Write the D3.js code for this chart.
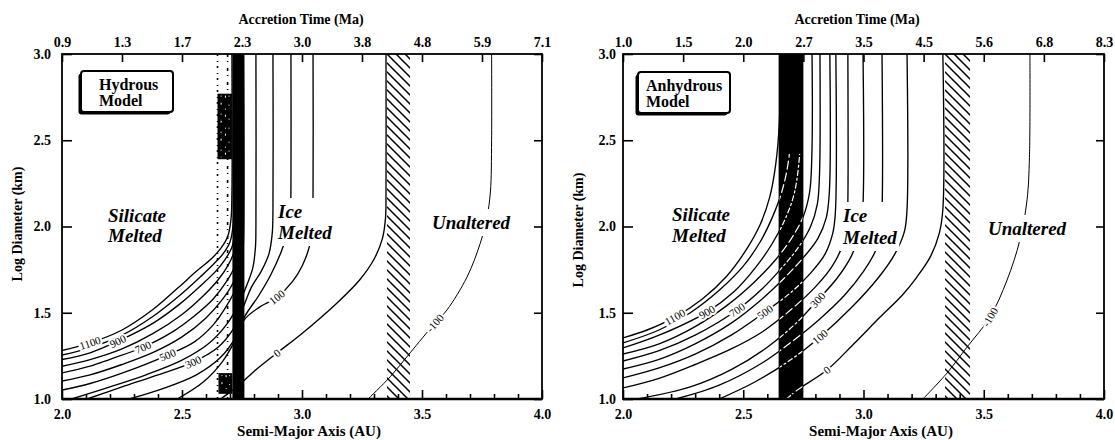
<!DOCTYPE html>
<html>
<head>
<meta charset="utf-8">
<script src="https://cdn.jsdelivr.net/npm/d3@7"></script>
<style>
  body { margin: 0; background: #fff; }
  svg text { font-family: "Liberation Serif", "Times New Roman", serif; fill: #000; }
</style>
</head>
<body>
<svg id="chart" width="1115" height="440"></svg>
<script>
// ---- axes ----
const axisDomainA = [2.0, 4.0];          // semi-major axis (AU)
const axisDomainD = [1.0, 3.0];          // log diameter (km)
const bottomTicks = [2.0, 2.5, 3.0, 3.5, 4.0];
const bottomMinorTicks = [2.1, 2.2, 2.3, 2.4, 2.6, 2.7, 2.8, 2.9, 3.1, 3.2, 3.3, 3.4, 3.6, 3.7, 3.8, 3.9];
const sideTicks = [1.0, 1.5, 2.0, 2.5, 3.0];
const topTickPositions = [2.0, 2.25, 2.5, 2.75, 3.0, 3.25, 3.5, 3.75, 4.0];
const hydrousTimeLabels = ["0.9", "1.3", "1.7", "2.3", "3.0", "3.8", "4.8", "5.9", "7.1"];
const anhydrousTimeLabels = ["1.0", "1.5", "2.0", "2.7", "3.5", "4.5", "5.6", "6.8", "8.3"];

// ---- hydrous model: peak temperature contours (deg C), points as [AU, log D] ----
const hydrousLevels = [1100, 1000, 900, 800, 700, 600, 500, 400, 300, 200, 100, 0, -100];
const hydrousCurves = [
  [[2.0,1.281],[2.117,1.325],[2.25,1.40],[2.38,1.52],[2.48,1.64],[2.56,1.74],[2.62,1.81],[2.66,1.87],[2.69,1.94],[2.704,2.04],[2.708,2.2],[2.708,3.0]],
  [[2.0,1.255],[2.117,1.297],[2.25,1.37],[2.38,1.48],[2.49,1.60],[2.57,1.70],[2.63,1.78],[2.67,1.84],[2.70,1.91],[2.713,2.01],[2.716,2.17],[2.716,3.0]],
  [[2.0,1.229],[2.117,1.268],[2.233,1.335],[2.38,1.44],[2.49,1.55],[2.58,1.66],[2.64,1.74],[2.68,1.81],[2.708,1.88],[2.721,1.98],[2.724,2.14],[2.724,3.0]],
  [[2.0,1.19],[2.117,1.228],[2.25,1.29],[2.38,1.38],[2.50,1.49],[2.59,1.60],[2.65,1.69],[2.69,1.77],[2.716,1.85],[2.729,1.95],[2.732,2.11],[2.732,3.0]],
  [[2.0,1.151],[2.117,1.19],[2.2,1.23],[2.3375,1.30],[2.45,1.38],[2.55,1.48],[2.63,1.58],[2.685,1.68],[2.72,1.77],[2.737,1.88],[2.74,2.05],[2.74,3.0]],
  [[2.0,1.104],[2.117,1.14],[2.25,1.20],[2.38,1.27],[2.50,1.36],[2.60,1.47],[2.67,1.58],[2.715,1.68],[2.738,1.78],[2.747,1.90],[2.748,2.05],[2.748,3.0]],
  [[2.0,1.052],[2.117,1.09],[2.25,1.15],[2.44,1.255],[2.55,1.33],[2.63,1.43],[2.69,1.55],[2.73,1.66],[2.75,1.77],[2.756,1.90],[2.756,3.0]],
  [[2.04,1.0],[2.2,1.07],[2.35,1.14],[2.5,1.225],[2.61,1.32],[2.69,1.44],[2.74,1.56],[2.77,1.66],[2.795,1.76],[2.806,1.88],[2.808,2.0],[2.808,3.0]],
  [[2.104,1.0],[2.25,1.07],[2.40,1.14],[2.546,1.214],[2.65,1.30],[2.72,1.42],[2.76,1.55],[2.79,1.65],[2.83,1.74],[2.862,1.84],[2.876,1.96],[2.879,2.1],[2.879,3.0]],
  [[2.28,1.0],[2.42,1.06],[2.56,1.14],[2.66,1.24],[2.72,1.35],[2.762,1.48],[2.82,1.60],[2.87,1.72],[2.915,1.86],[2.942,1.98],[2.952,2.1],[2.954,2.25],[2.954,3.0]],
  [[2.48,1.0],[2.59,1.10],[2.67,1.22],[2.725,1.35],[2.76,1.46],[2.82,1.53],[2.896,1.59],[2.96,1.68],[3.0,1.77],[3.03,1.88],[3.043,2.0],[3.046,2.2],[3.046,3.0]],
  [[2.66,1.0],[2.72,1.06],[2.80,1.16],[2.896,1.267],[3.0,1.38],[3.146,1.557],[3.24,1.69],[3.30,1.81],[3.335,1.93],[3.348,2.05],[3.35,2.2],[3.35,3.0]],
  [[3.275,1.0],[3.367,1.128],[3.45,1.267],[3.554,1.44],[3.604,1.516],[3.6875,1.707],[3.742,1.90],[3.77,2.05],[3.785,2.2],[3.79,2.5],[3.79,3.0]]
];
// index of the vertex carrying each contour's value label (null = unlabelled)
const hydrousLabelAt = [1, null, 2, null, 3, null, 3, null, 3, null, 6, 3, 3];
const hydrousBand = [2.71, 2.76];
const hydrousHatch = [3.354, 3.45];
const hydrousSpeckle = [[2.648, 2.708, 2.39, 2.77], [2.652, 2.71, 1.03, 1.15]];
const hydrousDotted = [2.648, 2.69];

// ---- anhydrous model ----
const anhydrousLevels = [1100, 1000, 900, 800, 700, 600, 500, 400, 300, 200, 100, 0, -100];
const anhydrousCurves = [
  [[2.0,1.354],[2.10,1.40],[2.216,1.475],[2.33,1.58],[2.43,1.71],[2.51,1.86],[2.57,2.01],[2.61,2.17],[2.635,2.36],[2.65,2.6],[2.655,3.0]],
  [[2.0,1.325],[2.15,1.40],[2.28,1.50],[2.40,1.63],[2.50,1.77],[2.57,1.91],[2.62,2.05],[2.66,2.2],[2.69,2.4],[2.70,2.7],[2.70,3.0]],
  [[2.0,1.296],[2.15,1.37],[2.349,1.504],[2.46,1.62],[2.55,1.76],[2.62,1.90],[2.67,2.03],[2.71,2.18],[2.73,2.35],[2.74,2.6],[2.742,3.0]],
  [[2.0,1.261],[2.15,1.32],[2.30,1.42],[2.43,1.54],[2.54,1.67],[2.63,1.80],[2.70,1.93],[2.75,2.06],[2.776,2.2],[2.785,2.4],[2.786,3.0]],
  [[2.0,1.22],[2.15,1.28],[2.30,1.37],[2.474,1.516],[2.58,1.64],[2.66,1.76],[2.73,1.88],[2.78,2.0],[2.808,2.13],[2.817,2.3],[2.819,3.0]],
  [[2.0,1.174],[2.15,1.23],[2.30,1.32],[2.45,1.44],[2.57,1.57],[2.67,1.70],[2.75,1.82],[2.81,1.93],[2.845,2.05],[2.858,2.2],[2.86,3.0]],
  [[2.0,1.122],[2.15,1.18],[2.30,1.26],[2.45,1.37],[2.59,1.504],[2.70,1.62],[2.78,1.73],[2.84,1.84],[2.872,1.96],[2.883,2.08],[2.885,3.0]],
  [[2.0,1.064],[2.15,1.12],[2.30,1.20],[2.45,1.29],[2.58,1.39],[2.70,1.52],[2.80,1.65],[2.87,1.77],[2.915,1.90],[2.932,2.03],[2.935,2.15],[2.935,3.0]],
  [[2.06,1.0],[2.28,1.07],[2.45,1.17],[2.60,1.30],[2.72,1.44],[2.81,1.574],[2.89,1.70],[2.95,1.83],[2.985,1.96],[2.997,2.1],[2.998,3.0]],
  [[2.22,1.0],[2.40,1.08],[2.58,1.21],[2.70,1.33],[2.815,1.46],[2.92,1.60],[3.00,1.74],[3.05,1.86],[3.07,1.98],[3.077,2.1],[3.077,3.0]],
  [[2.40,1.0],[2.55,1.10],[2.70,1.23],[2.819,1.36],[2.95,1.53],[3.06,1.70],[3.13,1.84],[3.17,1.97],[3.181,2.1],[3.181,3.0]],
  [[2.68,1.0],[2.723,1.05],[2.848,1.168],[2.96,1.32],[3.069,1.475],[3.16,1.60],[3.222,1.707],[3.28,1.83],[3.315,1.96],[3.33,2.1],[3.33,3.0]],
  [[3.247,1.0],[3.347,1.15],[3.43,1.30],[3.526,1.475],[3.597,1.69],[3.65,1.92],[3.68,2.154],[3.69,2.4],[3.692,3.0]]
];
const anhydrousLabelAt = [2, null, 2, null, 3, null, 4, null, 5, null, 3, 2, 3];
const anhydrousBand = [2.647, 2.75];
const anhydrousHatch = [3.339, 3.443];
const anhydrousStreakTop = 2.42;

// ---- layout ----
const plotTop = 54, plotBottom = 399;
const panels = [
  {
    id: "hydrous", left: 62, right: 542,
    timeLabels: hydrousTimeLabels, levels: hydrousLevels, curves: hydrousCurves, labelAt: hydrousLabelAt,
    band: hydrousBand, hatch: hydrousHatch, speckle: hydrousSpeckle, dotted: hydrousDotted, streakTop: null,
    box: { x: 81, y: 71, w: 92, h: 41, text: ["Hydrous", "Model"], tx: 99, ty: [90, 106] },
    regions: [
      { lines: ["Silicate", "Melted"], x: 108, y: [222, 242] },
      { lines: ["Ice", "Melted"], x: 278, y: [218, 239] },
      { lines: ["Unaltered"], x: 432, y: [229] }
    ],
    topTitleX: 301, bottomTitleX: 309, sideTitleX: 22, sideTitleY: 224, tickLabelGap: 11
  },
  {
    id: "anhydrous", left: 623, right: 1104,
    timeLabels: anhydrousTimeLabels, levels: anhydrousLevels, curves: anhydrousCurves, labelAt: anhydrousLabelAt,
    band: anhydrousBand, hatch: anhydrousHatch, speckle: [], dotted: [], streakTop: anhydrousStreakTop,
    box: { x: 638, y: 72, w: 92, h: 41, text: ["Anhydrous", "Model"], tx: 646, ty: [91, 107] },
    regions: [
      { lines: ["Silicate", "Melted"], x: 672, y: [221, 242] },
      { lines: ["Ice", "Melted"], x: 843, y: [222, 244] },
      { lines: ["Unaltered"], x: 988, y: [235] }
    ],
    topTitleX: 857, bottomTitleX: 881, sideTitleX: 583, sideTitleY: 230, tickLabelGap: 7
  }
];

const svg = d3.select("#chart");
const defs = svg.append("defs");

// diagonal hatching (upper-left to lower-right), 9 px repeat
const hatch = defs.append("pattern")
  .attr("id", "hatch")
  .attr("patternUnits", "userSpaceOnUse")
  .attr("width", 9).attr("height", 9);
hatch.append("path")
  .attr("d", "M-1,-1L10,10M-1,8L1,10M8,-1L10,1")
  .attr("stroke", "#000").attr("stroke-width", 1.5).attr("fill", "none");

function styleAxis(sel, size) {
  sel.attr("font-family", null).attr("font-size", null);
  sel.select(".domain").remove();
  sel.selectAll(".tick line").attr("stroke", "#000").attr("stroke-width", 1.6);
  sel.selectAll(".tick text")
    .style("font-family", '"Liberation Serif", "Times New Roman", serif')
    .style("font-size", size + "px")
    .style("font-weight", "bold");
}

function drawPanel(p) {
  const x = d3.scaleLinear().domain(axisDomainA).range([p.left, p.right]);
  const y = d3.scaleLinear().domain(axisDomainD).range([plotBottom, plotTop]);
  const g = svg.append("g").attr("class", "panel-" + p.id);

  const clipId = "clip-" + p.id;
  defs.append("clipPath").attr("id", clipId).append("rect")
    .attr("x", p.left).attr("y", plotTop)
    .attr("width", p.right - p.left).attr("height", plotBottom - plotTop);
  const plot = g.append("g").attr("clip-path", `url(#${clipId})`);

  // hatched transition zone
  plot.append("rect")
    .attr("x", x(p.hatch[0])).attr("y", plotTop)
    .attr("width", x(p.hatch[1]) - x(p.hatch[0])).attr("height", plotBottom - plotTop)
    .attr("fill", "url(#hatch)");

  // dotted edges of the crowded zone
  p.dotted.forEach((a, i) => {
    plot.append("line")
      .attr("x1", x(a)).attr("x2", x(a)).attr("y1", plotTop).attr("y2", plotBottom)
      .attr("stroke", "#000").attr("stroke-width", 1.6)
      .attr("stroke-dasharray", i === 0 ? "2,5,1,4" : "3,4,1,6");
  });
  // dense speckled blocks
  p.speckle.forEach(s => {
    const x0 = x(s[0]), x1 = x(s[1]), y0 = y(s[3]), y1 = y(s[2]);
    plot.append("rect")
      .attr("x", x0).attr("y", y0).attr("width", x1 - x0).attr("height", y1 - y0)
      .attr("fill", "#000");
    [0.25, 0.55, 0.8].forEach((f, j) => {
      plot.append("line")
        .attr("x1", x0 + f * (x1 - x0)).attr("x2", x0 + f * (x1 - x0))
        .attr("y1", y0 + 2).attr("y2", y1 - 2)
        .attr("stroke", "#fff").attr("stroke-width", 1)
        .attr("stroke-dasharray", ["1,6,2,9", "2,11,1,5", "1,8,1,13"][j]);
    });
  });

  // solid band where the contours crowd together
  plot.append("rect")
    .attr("x", x(p.band[0])).attr("y", plotTop)
    .attr("width", x(p.band[1]) - x(p.band[0])).attr("height", plotBottom - plotTop)
    .attr("fill", "#000");

  const line = d3.line()
    .x(d => x(d[0])).y(d => y(d[1]))
    .curve(d3.curveCatmullRom.alpha(0.5));

  plot.selectAll("path.contour")
    .data(p.curves)
    .join("path")
    .attr("class", "contour")
    .attr("d", line)
    .attr("fill", "none")
    .attr("stroke", "#000")
    .attr("stroke-width", (d, i) => p.levels[i] < 0 ? 1.0 : 1.35);

  // contour traces showing through the dark band
  if (p.streakTop !== null) {
    const sid = "streak-" + p.id;
    defs.append("clipPath").attr("id", sid).append("rect")
      .attr("x", x(p.band[0]) + 1).attr("y", y(p.streakTop))
      .attr("width", x(p.band[1]) - x(p.band[0]) - 2).attr("height", plotBottom - y(p.streakTop));
    plot.append("g").attr("clip-path", `url(#${sid})`)
      .selectAll("path")
      .data(p.curves)
      .join("path")
      .attr("d", line)
      .attr("fill", "none")
      .attr("stroke", "#fff")
      .attr("stroke-width", 1.2)
      .attr("stroke-dasharray", (d, i) => i % 2 ? "9,3" : "6,2,3,2");
  }

  // contour value labels, set along the curve
  p.labelAt.forEach((k, i) => {
    if (k === null) return;
    const pts = p.curves[i];
    const a = pts[k - 1], b = pts[k + 1];
    const ang = Math.atan2(y(b[1]) - y(a[1]), x(b[0]) - x(a[0])) * 180 / Math.PI;
    plot.append("text")
      .attr("transform", `translate(${x(pts[k][0])},${y(pts[k][1])}) rotate(${ang})`)
      .attr("text-anchor", "middle")
      .attr("dy", "0.35em")
      .attr("font-size", 11)
      .attr("stroke", "#fff").attr("stroke-width", 4).attr("paint-order", "stroke")
      .text(p.levels[i]);
  });

  // region names with a cleared background
  p.regions.forEach(r => {
    const grp = g.append("g");
    const bg = grp.append("rect").attr("fill", "#fff");
    r.lines.forEach((t, j) => {
      grp.append("text")
        .attr("x", r.x).attr("y", r.y[j])
        .attr("font-size", 19).attr("font-weight", "bold").attr("font-style", "italic")
        .text(t);
    });
    const bb = grp.node().getBBox();
    bg.attr("x", bb.x - 2).attr("y", bb.y - 3).attr("width", bb.width + 4).attr("height", bb.height + 6);
  });

  // model name box
  const bx = p.box;
  g.append("rect").attr("x", bx.x - 2.5).attr("y", bx.y + 2.5).attr("width", bx.w).attr("height", bx.h)
    .attr("rx", 3).attr("fill", "#000");
  g.append("rect").attr("x", bx.x).attr("y", bx.y).attr("width", bx.w).attr("height", bx.h)
    .attr("rx", 3).attr("fill", "#fff").attr("stroke", "#000").attr("stroke-width", 2);
  bx.text.forEach((t, j) => {
    g.append("text").attr("x", bx.tx).attr("y", bx.ty[j])
      .attr("font-size", 16).attr("font-weight", "bold").text(t);
  });

  // axes
  g.append("g").attr("transform", `translate(0,${plotBottom})`)
    .call(d3.axisBottom(x).tickValues(bottomMinorTicks).tickSize(-5).tickFormat(""))
    .call(s => styleAxis(s, 14));
  g.append("g").attr("transform", `translate(0,${plotBottom})`)
    .call(d3.axisBottom(x).tickValues(bottomTicks).tickSize(-9).tickPadding(10).tickFormat(d3.format(".1f")))
    .call(s => styleAxis(s, 14));
  g.append("g").attr("transform", `translate(0,${plotTop})`)
    .call(d3.axisTop(x).tickValues(topTickPositions).tickSize(-8).tickPadding(7)
      .tickFormat((d, i) => p.timeLabels[i]))
    .call(s => styleAxis(s, 14));
  g.append("g").attr("transform", `translate(${p.left},0)`)
    .call(d3.axisLeft(y).tickValues(sideTicks).tickSize(-10).tickPadding(p.tickLabelGap).tickFormat(d3.format(".1f")))
    .call(s => styleAxis(s, 14));
  g.append("g").attr("transform", `translate(${p.right},0)`)
    .call(d3.axisRight(y).tickValues(sideTicks).tickSize(-8).tickFormat(""))
    .call(s => styleAxis(s, 14));

  // frame
  g.append("rect")
    .attr("x", p.left).attr("y", plotTop)
    .attr("width", p.right - p.left).attr("height", plotBottom - plotTop)
    .attr("fill", "none").attr("stroke", "#000").attr("stroke-width", 1.8);
  g.append("line")
    .attr("x1", p.left).attr("x2", p.right).attr("y1", plotBottom).attr("y2", plotBottom)
    .attr("stroke", "#000").attr("stroke-width", 2.6);

  // axis titles
  g.append("text").attr("x", p.topTitleX).attr("y", 24).attr("text-anchor", "middle")
    .attr("font-size", 14).attr("font-weight", "bold").text("Accretion Time (Ma)");
  g.append("text").attr("x", p.bottomTitleX).attr("y", 436).attr("text-anchor", "middle")
    .attr("font-size", 15).attr("font-weight", "bold").text("Semi-Major Axis (AU)");
  g.append("text")
    .attr("transform", `translate(${p.sideTitleX},${p.sideTitleY}) rotate(-90)`)
    .attr("text-anchor", "middle")
    .attr("font-size", 14).attr("font-weight", "bold").text("Log Diameter (km)");
}

panels.forEach(drawPanel);
</script>
</body>
</html>
